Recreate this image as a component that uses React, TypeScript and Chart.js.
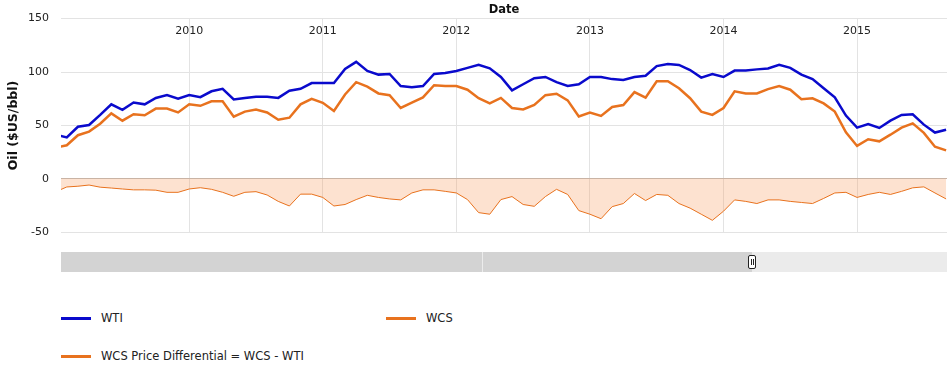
import React, { useEffect, useRef } from 'react';
import { Chart, registerables } from 'chart.js';

Chart.register(...registerables);

// ---- data ----
const months = [
  '2009-01','2009-02','2009-03','2009-04','2009-05','2009-06','2009-07','2009-08','2009-09','2009-10','2009-11','2009-12',
  '2010-01','2010-02','2010-03','2010-04','2010-05','2010-06','2010-07','2010-08','2010-09','2010-10','2010-11','2010-12',
  '2011-01','2011-02','2011-03','2011-04','2011-05','2011-06','2011-07','2011-08','2011-09','2011-10','2011-11','2011-12',
  '2012-01','2012-02','2012-03','2012-04','2012-05','2012-06','2012-07','2012-08','2012-09','2012-10','2012-11','2012-12',
  '2013-01','2013-02','2013-03','2013-04','2013-05','2013-06','2013-07','2013-08','2013-09','2013-10','2013-11','2013-12',
  '2014-01','2014-02','2014-03','2014-04','2014-05','2014-06','2014-07','2014-08','2014-09','2014-10','2014-11','2014-12',
  '2015-01','2015-02','2015-03','2015-04','2015-05','2015-06','2015-07','2015-08','2015-09',
];

const wti = [
  41.4, 38.9, 48.8, 50.5, 59.9, 69.8, 64.7, 71.5, 69.8, 75.8, 78.4, 75.0,
  78.4, 76.5, 82.0, 84.3, 74.4, 75.8, 76.9, 76.9, 75.8, 82.6, 84.3, 89.7,
  89.7, 89.7, 102.8, 109.5, 101.0, 97.6, 98.2, 86.9, 85.7, 86.9, 98.2, 99.1,
  101.0, 103.9, 106.7, 103.5, 95.4, 82.9, 88.6, 94.2, 95.4, 90.5, 86.9, 88.6,
  95.4, 95.4, 93.4, 92.5, 95.4, 96.6, 105.6, 107.6, 106.7, 101.9, 94.8, 98.2,
  95.4, 101.4, 101.4, 102.5, 103.3, 106.7, 103.9, 97.6, 93.4, 84.8, 76.3, 59.3,
  48.0, 51.4, 47.7, 54.5, 59.9, 60.5, 50.8, 43.4, 46.0,
];

const wcs = [
  29.4, 31.5, 40.9, 44.3, 51.6, 61.3, 54.5, 60.5, 59.6, 65.8, 65.8, 62.2,
  69.8, 68.4, 72.7, 72.7, 58.2, 63.0, 65.0, 62.2, 55.4, 57.3, 69.8, 75.0,
  71.2, 63.5, 79.0, 90.5, 86.3, 80.0, 78.4, 66.4, 71.5, 76.3, 87.7, 86.9,
  86.9, 83.5, 75.5, 70.7, 75.8, 66.4, 65.0, 69.2, 78.4, 79.7, 73.5, 58.4,
  62.2, 59.0, 67.3, 69.2, 81.2, 76.0, 91.4, 91.4, 84.8, 75.5, 63.0, 59.9,
  66.4, 82.0, 80.0, 80.0, 84.0, 86.9, 83.5, 74.6, 75.5, 70.7, 63.0, 43.7,
  30.9, 37.1, 35.2, 41.4, 48.0, 52.0, 43.1, 30.1, 26.7,
];

const differential = [
  -12.0, -7.5, -6.8, -5.7, -7.7, -8.5, -9.4, -10.2, -10.2, -10.5, -12.5, -12.5,
  -9.4, -8.2, -9.7, -12.5, -16.2, -12.5, -11.9, -15.0, -21.0, -25.3, -14.2, -14.2,
  -17.3, -25.3, -23.9, -19.3, -15.3, -17.3, -18.7, -19.6, -13.1, -10.2, -10.2, -11.6,
  -13.1, -19.3, -31.5, -33.0, -19.3, -16.5, -23.9, -25.6, -16.5, -9.7, -14.5, -29.6,
  -33.0, -37.2, -25.9, -23.0, -13.6, -20.2, -14.5, -15.3, -23.0, -27.3, -33.0, -38.7,
  -30.2, -19.6, -21.0, -23.0, -19.6, -19.6, -21.0, -22.0, -23.0, -18.2, -13.1, -12.5,
  -17.3, -14.5, -12.5, -14.5, -11.6, -8.3, -7.4, -13.1, -18.7,
];

const yTicks = [-50, 0, 50, 100, 150];
const seriesNames = ['WTI', 'WCS', 'WCS Price Differential = WCS - WTI'];

// visible window (month index units)
const X_MIN = 0.48;
const X_MAX = 80.08;

// ---- styles ----
const FONT = '"DejaVu Sans", Verdana, sans-serif';
const BLUE = '#0a0acc';
const ORANGE = '#e8721e';

export default function App() {
  const canvasRef = useRef<HTMLCanvasElement | null>(null);

  useEffect(() => {
    document.body.style.margin = '0';
    const canvas = canvasRef.current;
    if (!canvas) return;
    const toPts = (arr: number[]) => arr.map((v, i) => ({ x: i, y: v }));
    const chart = new Chart(canvas, {
      type: 'line',
      data: {
        datasets: [
          {
            label: seriesNames[0],
            data: toPts(wti),
            borderColor: BLUE,
            borderWidth: 2.5,
            pointRadius: 0,
            tension: 0,
            fill: false,
            clip: 0,
          },
          {
            label: seriesNames[1],
            data: toPts(wcs),
            borderColor: ORANGE,
            borderWidth: 2.5,
            pointRadius: 0,
            tension: 0,
            fill: false,
            clip: 0,
          },
          {
            label: seriesNames[2],
            data: toPts(differential),
            borderColor: ORANGE,
            borderWidth: 1,
            pointRadius: 0,
            tension: 0,
            fill: 'origin',
            backgroundColor: 'rgba(249,160,100,0.3)',
            clip: 0,
          },
        ],
      },
      options: {
        animation: false,
        responsive: false,
        devicePixelRatio: 1,
        layout: { padding: { left: 0, right: 0, top: 0, bottom: 1 } },
        plugins: { legend: { display: false }, tooltip: { enabled: false } },
        scales: {
          x: {
            type: 'linear',
            position: 'top',
            min: X_MIN,
            max: X_MAX,
            border: { display: false },
            grid: { color: '#e3e3e3', drawTicks: false },
            ticks: {
              mirror: true,
              padding: 5.5,
              color: '#222',
              font: { family: FONT, size: 11 },
              maxRotation: 0,
              autoSkip: false,
              callback: (v: any) => {
                const m = months[Math.round(Number(v))];
                return m ? m.slice(0, 4) : '';
              },
            },
            title: {
              display: true,
              text: 'Date',
              color: '#111',
              font: { family: FONT, size: 11.5, weight: 'bold' },
              padding: { top: -1.5, bottom: 0 },
            },
            afterBuildTicks: (scale: any) => {
              scale.ticks = months
                .map((m, i) => (m.endsWith('-01') && i >= X_MIN && i <= X_MAX ? { value: i } : null))
                .filter((t) => t !== null);
            },
            afterFit: (scale: any) => {
              scale.height = 14;
            },
          },
          y: {
            type: 'linear',
            min: -50,
            max: 150,
            border: { display: false },
            grid: {
              drawTicks: false,
              color: (ctx: any) => (ctx.tick && ctx.tick.value === 0 ? '#c9b3a4' : '#e3e3e3'),
            },
            ticks: {
              padding: 12,
              color: '#222',
              font: { family: FONT, size: 11 },
            },
            afterBuildTicks: (scale: any) => {
              scale.ticks = yTicks.map((v) => ({ value: v }));
            },
            title: {
              display: true,
              text: 'Oil ($US/bbl)',
              color: '#111',
              font: { family: FONT, size: 12.5, weight: 'bold' },
              padding: { top: 6, bottom: 0 },
            },
            afterFit: (scale: any) => {
              scale.width = 61;
            },
          },
        },
      },
    } as any);
    return () => chart.destroy();
  }, []);

  const legendText: React.CSSProperties = {
    position: 'absolute',
    fontFamily: FONT,
    fontSize: '11.5px',
    color: '#222',
    lineHeight: '14px',
    whiteSpace: 'nowrap',
  };
  const swatch = (left: number, top: number, color: string): React.CSSProperties => ({
    position: 'absolute',
    left,
    top,
    width: 30,
    height: 3.5,
    background: color,
  });

  return (
    <div style={{ position: 'fixed', left: 0, top: 0, width: 947, height: 371, background: '#fff', overflow: 'hidden' }}>
      <canvas ref={canvasRef} width={947} height={251} style={{ position: 'absolute', left: 0, top: 0, width: 947, height: 251 }} />
      {/* navigator / scrollbar */}
      <div style={{ position: 'absolute', left: 61, top: 252, width: 691, height: 20, background: '#d3d3d3' }} />
      <div style={{ position: 'absolute', left: 482, top: 252, width: 1, height: 20, background: '#ececec' }} />
      <div style={{ position: 'absolute', left: 752, top: 252, width: 195, height: 20, background: '#ebebeb' }} />
      <div
        style={{
          position: 'absolute',
          left: 748,
          top: 255,
          width: 6,
          height: 12,
          background: '#fff',
          border: '1px solid #222',
          borderRadius: 2,
        }}
      >
        <div style={{ position: 'absolute', left: 1.5, top: 3, width: 1, height: 6, background: '#222' }} />
        <div style={{ position: 'absolute', left: 3.5, top: 3, width: 1, height: 6, background: '#222' }} />
      </div>
      {/* legend */}
      <div style={swatch(61, 316.5, BLUE)} />
      <div style={{ ...legendText, left: 101, top: 311 }}>{seriesNames[0]}</div>
      <div style={swatch(386, 316.5, ORANGE)} />
      <div style={{ ...legendText, left: 426, top: 311 }}>{seriesNames[1]}</div>
      <div style={swatch(61, 354.5, ORANGE)} />
      <div style={{ ...legendText, left: 101, top: 349 }}>{seriesNames[2]}</div>
    </div>
  );
}
